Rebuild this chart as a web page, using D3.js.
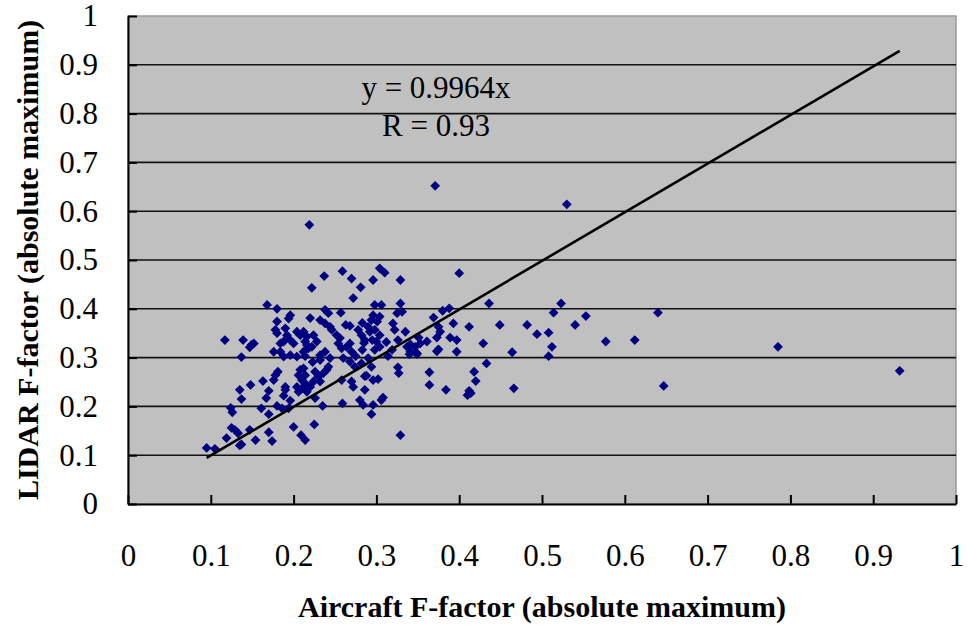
<!DOCTYPE html>
<html>
<head>
<meta charset="utf-8">
<script src="https://cdn.jsdelivr.net/npm/d3@7/dist/d3.min.js"></script>
<style>
    body { margin: 0; background: #ffffff; }
    svg text { font-family: 'Liberation Serif', 'Times New Roman', serif; fill: #000000; }
</style>
</head>
<body>
<div id="chart"></div>
<script>
// Aircraft F-factor (x) and LIDAR F-factor (y)
const aircraftF = [
    0.371, 0.530, 0.219, 0.932, 0.785, 0.647, 0.640, 0.612, 0.577, 0.553,
    0.540, 0.523, 0.514, 0.512, 0.508, 0.508, 0.494, 0.482, 0.449, 0.436,
    0.400, 0.412, 0.393, 0.380, 0.388, 0.369, 0.375, 0.377, 0.373, 0.389,
    0.397, 0.361, 0.375, 0.373, 0.351, 0.353, 0.341, 0.340, 0.349, 0.397,
    0.429, 0.464, 0.433, 0.418, 0.420, 0.412, 0.414, 0.410, 0.364, 0.364,
    0.384, 0.466, 0.326, 0.327, 0.308, 0.296, 0.286, 0.286, 0.296, 0.302,
    0.294, 0.222, 0.237, 0.259, 0.270, 0.281, 0.272, 0.296, 0.304, 0.310,
    0.329, 0.220, 0.238, 0.242, 0.232, 0.238, 0.244, 0.246, 0.257, 0.263,
    0.268, 0.298, 0.306, 0.329, 0.325, 0.331, 0.296, 0.294, 0.304, 0.301,
    0.290, 0.292, 0.298, 0.320, 0.322, 0.335, 0.278, 0.282, 0.286, 0.212,
    0.216, 0.224, 0.228, 0.222, 0.216, 0.252, 0.256, 0.254, 0.258, 0.264,
    0.268, 0.270, 0.300, 0.304, 0.298, 0.326, 0.337, 0.341, 0.347, 0.349,
    0.238, 0.232, 0.168, 0.180, 0.196, 0.194, 0.180, 0.178, 0.180, 0.190,
    0.192, 0.196, 0.200, 0.204, 0.208, 0.184, 0.188, 0.214, 0.218, 0.212,
    0.117, 0.139, 0.149, 0.152, 0.147, 0.176, 0.184, 0.137, 0.188, 0.196,
    0.204, 0.181, 0.178, 0.176, 0.208, 0.212, 0.206, 0.214, 0.163, 0.148,
    0.135, 0.137, 0.170, 0.167, 0.190, 0.190, 0.188, 0.204, 0.210, 0.214,
    0.216, 0.206, 0.196, 0.161, 0.170, 0.180, 0.186, 0.194, 0.124, 0.126,
    0.200, 0.209, 0.214, 0.125, 0.129, 0.133, 0.119, 0.137, 0.154, 0.170,
    0.174, 0.147, 0.095, 0.105, 0.135, 0.210, 0.226, 0.230, 0.236, 0.232,
    0.224, 0.220, 0.242, 0.240, 0.260, 0.268, 0.274, 0.282, 0.290, 0.270,
    0.272, 0.258, 0.288, 0.306, 0.280, 0.284, 0.294, 0.259, 0.235, 0.226,
    0.225, 0.329, 0.214, 0.223, 0.232, 0.244, 0.275, 0.283, 0.283, 0.285,
    0.295, 0.304, 0.312, 0.319, 0.314
];
const lidarF = [
    0.652, 0.614, 0.572, 0.273, 0.322, 0.242, 0.392, 0.336, 0.333, 0.385,
    0.367, 0.411, 0.392, 0.322, 0.351, 0.303, 0.348, 0.367, 0.367, 0.411,
    0.473, 0.363, 0.370, 0.396, 0.401, 0.382, 0.363, 0.353, 0.341, 0.341,
    0.336, 0.333, 0.317, 0.313, 0.341, 0.329, 0.327, 0.307, 0.307, 0.312,
    0.329, 0.311, 0.288, 0.271, 0.252, 0.232, 0.227, 0.223, 0.270, 0.244,
    0.234, 0.237, 0.280, 0.268, 0.218, 0.203, 0.234, 0.262, 0.254, 0.256,
    0.281, 0.443, 0.467, 0.477, 0.462, 0.444, 0.422, 0.459, 0.483, 0.474,
    0.459, 0.381, 0.398, 0.391, 0.377, 0.370, 0.363, 0.357, 0.392, 0.367,
    0.365, 0.408, 0.408, 0.411, 0.391, 0.394, 0.387, 0.377, 0.384, 0.374,
    0.363, 0.353, 0.357, 0.370, 0.357, 0.353, 0.357, 0.346, 0.336, 0.353,
    0.343, 0.346, 0.333, 0.322, 0.326, 0.346, 0.340, 0.329, 0.319, 0.322,
    0.329, 0.312, 0.333, 0.322, 0.316, 0.336, 0.322, 0.312, 0.322, 0.309,
    0.312, 0.305, 0.408, 0.400, 0.387, 0.380, 0.374, 0.357, 0.350, 0.360,
    0.346, 0.336, 0.329, 0.353, 0.346, 0.329, 0.333, 0.333, 0.319, 0.312,
    0.336, 0.336, 0.326, 0.329, 0.321, 0.312, 0.312, 0.301, 0.302, 0.305,
    0.302, 0.271, 0.264, 0.254, 0.275, 0.278, 0.264, 0.264, 0.252, 0.244,
    0.234, 0.215, 0.232, 0.217, 0.240, 0.234, 0.222, 0.240, 0.237, 0.247,
    0.230, 0.230, 0.212, 0.196, 0.184, 0.201, 0.196, 0.196, 0.197, 0.188,
    0.158, 0.141, 0.131, 0.156, 0.152, 0.145, 0.135, 0.122, 0.131, 0.147,
    0.129, 0.152, 0.115, 0.113, 0.120, 0.254, 0.271, 0.261, 0.268, 0.251,
    0.251, 0.240, 0.281, 0.275, 0.299, 0.292, 0.281, 0.288, 0.299, 0.251,
    0.240, 0.254, 0.263, 0.213, 0.213, 0.203, 0.184, 0.206, 0.201, 0.217,
    0.163, 0.141, 0.303, 0.291, 0.295, 0.299, 0.303, 0.316, 0.371, 0.330,
    0.336, 0.346, 0.332, 0.316, 0.303
];

// tick values on both axes
const tickValues = [0, 0.1, 0.2, 0.3, 0.4, 0.5, 0.6, 0.7, 0.8, 0.9, 1];

// trend line through the origin
const fitSlope = 0.9964;
const fitR = 0.93;

const xTitle = 'Aircraft F-factor (absolute maximum)';
const yTitle = 'LIDAR F-factor (absolute maximum)';

function scatter() {
    const width = 968;
    const height = 630;
    const margin = { top: 16, right: 12, bottom: 126, left: 128 };
    const plotFill = '#c0c0c0';
    const markerColor = '#000080';
    const markerSize = 48;

    const chartWidth = width - margin.left - margin.right;
    const chartHeight = height - margin.top - margin.bottom;

    const data = aircraftF.map((x, i) => ({ x: x, y: lidarF[i] }));

    const xScale = d3.scaleLinear().domain([0, 1]).range([0, chartWidth]);
    const yScale = d3.scaleLinear().domain([0, 1]).range([chartHeight, 0]);

    const svg = d3.select('#chart')
      .append('svg')
        .attr('width', width)
        .attr('height', height);

    const container = svg.append('g')
        .attr('transform', `translate(${margin.left}, ${margin.top})`);

    // plot background
    container.append('rect')
        .attr('width', chartWidth)
        .attr('height', chartHeight)
        .style('fill', plotFill)
        .style('stroke', '#9a9a9a')
        .style('stroke-width', 1.5);

    // horizontal gridlines
    container.append('g')
        .selectAll('line')
        .data(tickValues.slice(1, -1))
        .enter()
      .append('line')
        .attr('x1', 0)
        .attr('x2', chartWidth)
        .attr('y1', d => yScale(d))
        .attr('y2', d => yScale(d))
        .style('stroke', '#111')
        .style('stroke-width', 1.6);

    // axes, ticks point into the plot
    const xAxis = container.append('g')
        .attr('transform', `translate(0, ${chartHeight})`)
        .call(d3.axisBottom(xScale)
            .tickValues(tickValues)
            .tickFormat(d3.format('~g'))
            .tickSizeInner(-9)
            .tickSizeOuter(0)
            .tickPadding(40));

    const yAxis = container.append('g')
        .call(d3.axisLeft(yScale)
            .tickValues(tickValues)
            .tickFormat(d3.format('~g'))
            .tickSizeInner(-9)
            .tickSizeOuter(0)
            .tickPadding(30));

    [xAxis, yAxis].forEach(axis => {
        axis.attr('font-family', null).attr('font-size', null);
        axis.select('.domain').style('stroke', '#000').style('stroke-width', 2);
        axis.selectAll('.tick line').style('stroke', '#000').style('stroke-width', 2);
        axis.selectAll('.tick text').style('font-size', '31px');
    });

    // markers
    container.append('g')
        .selectAll('path')
        .data(data)
        .enter()
      .append('path')
        .attr('d', d3.symbol(d3.symbolSquare, markerSize))
        .attr('transform', d => `translate(${xScale(d.x)}, ${yScale(d.y)}) rotate(45)`)
        .style('fill', markerColor);

    // trend line over the data range
    const xExtent = d3.extent(aircraftF);
    container.append('line')
        .attr('x1', xScale(xExtent[0]))
        .attr('y1', yScale(fitSlope * xExtent[0]))
        .attr('x2', xScale(xExtent[1]))
        .attr('y2', yScale(fitSlope * xExtent[1]))
        .style('stroke', '#000')
        .style('stroke-width', 2.6);

    // equation label
    const labelX = xScale(0.372);
    container.append('text')
        .attr('x', labelX)
        .attr('y', yScale(0.832))
        .attr('text-anchor', 'middle')
        .style('font-size', '31px')
        .text(`y = ${fitSlope}x`);
    container.append('text')
        .attr('x', labelX)
        .attr('y', yScale(0.754))
        .attr('text-anchor', 'middle')
        .style('font-size', '31px')
        .text(`R = ${fitR}`);

    // axis titles
    svg.append('text')
        .attr('x', margin.left + chartWidth / 2)
        .attr('y', 617)
        .attr('text-anchor', 'middle')
        .style('font-size', '30px')
        .style('font-weight', 'bold')
        .text(xTitle);

    svg.append('text')
        .attr('transform', `translate(38, ${margin.top + chartHeight / 2}) rotate(-90)`)
        .attr('text-anchor', 'middle')
        .style('font-size', '30px')
        .style('font-weight', 'bold')
        .text(yTitle);
}

scatter();
</script>
</body>
</html>
